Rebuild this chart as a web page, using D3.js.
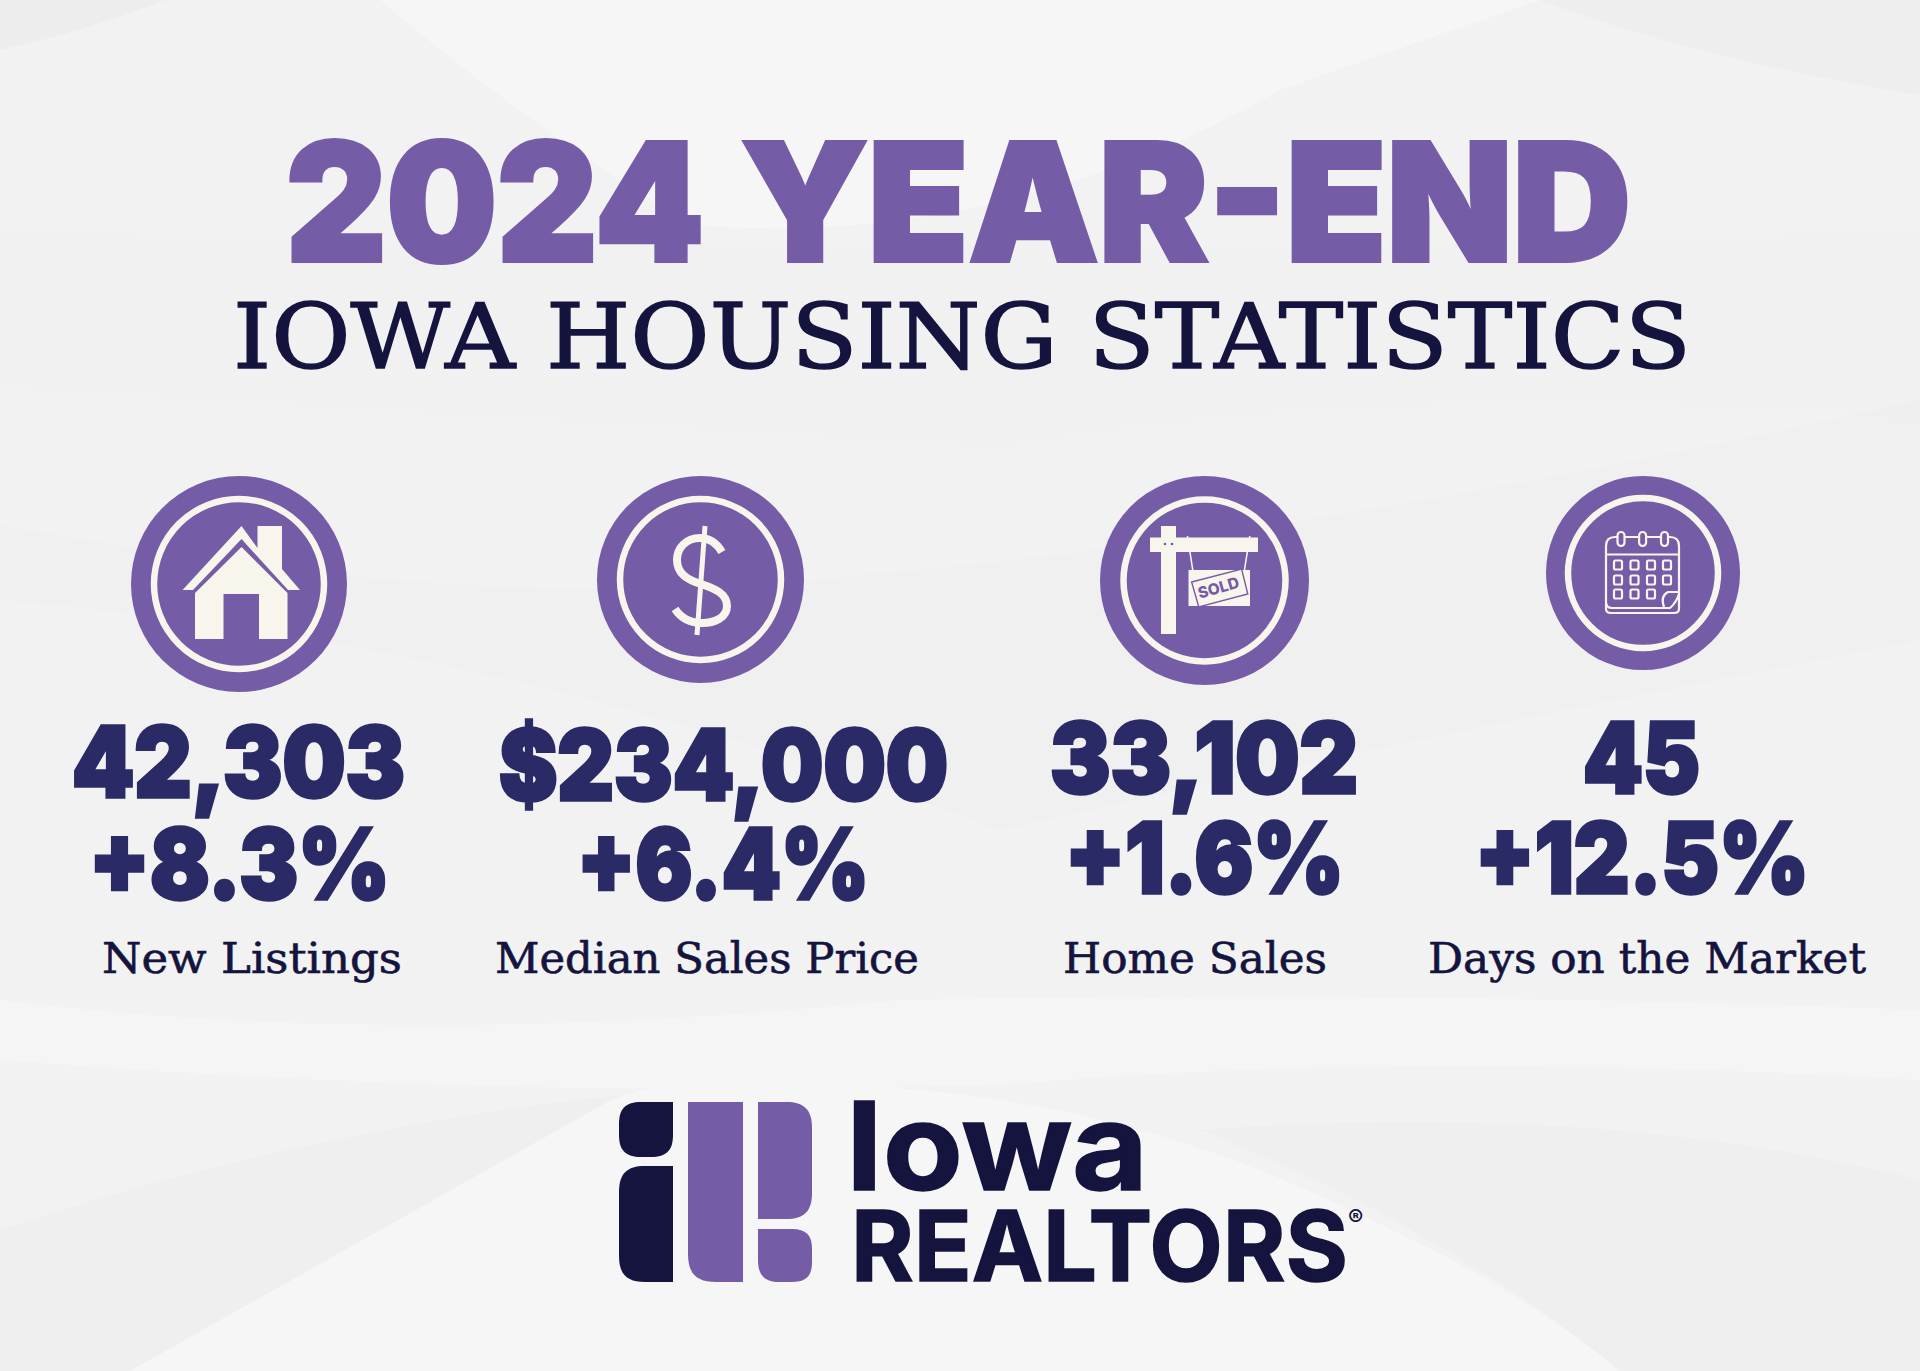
<!DOCTYPE html>
<html><head><meta charset="utf-8">
<script src="https://cdnjs.cloudflare.com/ajax/libs/d3/7.8.5/d3.min.js"></script>
<style>html,body{margin:0;padding:0;background:#f2f2f2}svg{display:block}</style>
</head><body><svg id="c" width="1920" height="1371"></svg>
<script>
// ---- data ----
const titleYear = "2024";
const titleRest = "YEAR-END";
const subtitleText = "IOWA HOUSING STATISTICS";
const categories = ["New Listings", "Median Sales Price", "Home Sales", "Days on the Market"];
const values = [42303, 234000, 33102, 45];
const valueFormats = [",", "$,", ",", "d"];
const changes = [8.3, 6.4, 1.6, 12.5];

// ---- layout ----
const PURPLE = "#745ca7", NAVY = "#2a2a66", INK = "#14143f", CREAM = "#f8f5ec";
const circles = [[239,584,108,88.5],[700.5,579.5,103.5,84],[1204.5,580.5,104.5,84.5],[1643,573,97,78.5]];
const valueBoxes = [[72,405,796.5],[499,948,799.5],[1050,1358,792.5],[1583,1700,792.5]];
const changeBoxes = [[89,390,898.5],[577,869,898.5],[1065,1344,892.5],[1475,1809,892.5]];
const labelBoxes = [[102,402,973],[495,919,973],[1063,1327,973],[1428,1866,973]];

const svg = d3.select("#c");
const fitted = (g, s, x0, x1, base, size, weight, family, fill, stroke) => g.append("text")
  .attr("x", x0).attr("y", base).attr("textLength", x1 - x0).attr("lengthAdjust", "spacingAndGlyphs")
  .attr("font-size", size).attr("font-weight", weight).attr("font-family", family).attr("fill", fill)
  .attr("stroke", stroke ? fill : null).attr("stroke-width", stroke || null).attr("stroke-linejoin","miter").text(s);

// background
const bg = svg.append("g");
bg.append("rect").attr("width",1920).attr("height",1371).attr("fill","#f2f2f2");
const shades = [
 ["M0,50 Q90,30 165,0 L0,0Z","#ececec",.9],
 ["M380,0 Q520,120 690,225 Q1000,250 1280,90 L1540,0Z","#f6f6f6",.9],
 ["M1540,0 Q1700,60 1920,95 L1920,0Z","#ededed",.9],
 ["M0,225 Q400,250 800,240 Q1300,260 1920,225 L1920,420 Q1400,380 1000,450 Q500,420 0,390Z","#f0f0f0",.8],
 ["M0,525 Q500,620 860,575 Q1300,540 1920,400 L1920,640 Q1400,740 1000,830 Q500,640 0,600Z","#efefef",.8],
 ["M0,1000 Q400,1050 900,1000 Q1400,990 1920,1010 L1920,1080 Q1400,1050 1000,1085 Q500,1100 0,1060Z","#f5f5f5",.9],
 ["M130,1371 Q350,1190 640,1090 Q980,1060 1260,1170 Q1500,1270 1620,1371Z","#f6f6f6",.9],
 ["M0,1230 Q300,1130 620,1095 L130,1371 L0,1371Z","#ededed",.8],
 ["M1620,1371 Q1450,1230 1200,1130 Q1600,1100 1920,1180 L1920,1371Z","#eeeeee",.8],
];
bg.selectAll("path").data(shades).join("path").attr("d",d=>d[0]).attr("fill",d=>d[1]).attr("opacity",d=>d[2]);

// titles
const tt = svg.append("text").attr("y",261).attr("font-size",164).attr("font-weight",900).attr("font-family","Inter")
  .attr("fill",PURPLE).attr("stroke",PURPLE).attr("stroke-width",4);
tt.append("tspan").attr("x",286).attr("textLength",418).attr("lengthAdjust","spacingAndGlyphs").text(titleYear);
tt.append("tspan").text(" ");
tt.append("tspan").attr("x",741).attr("textLength",890).attr("lengthAdjust","spacingAndGlyphs").text(titleRest);
fitted(svg, subtitleText, 233, 1691, 368, 90, 400, "DejaVu Serif", INK, 1.5);

// circles
const cg = svg.selectAll("g.kpi").data(categories).join("g").attr("class","kpi");
cg.append("circle").attr("cx",(d,i)=>circles[i][0]).attr("cy",(d,i)=>circles[i][1]).attr("r",(d,i)=>circles[i][2]).attr("fill",PURPLE);
cg.append("circle").attr("cx",(d,i)=>circles[i][0]).attr("cy",(d,i)=>circles[i][1]).attr("r",(d,i)=>circles[i][3]-3.5)
  .attr("fill","none").attr("stroke",CREAM).attr("stroke-width",6.5);

// value / change / label text
cg.each(function(d,i){
  const g = d3.select(this), v = valueBoxes[i], c = changeBoxes[i], l = labelBoxes[i];
  fitted(g, d3.format(valueFormats[i])(values[i]), v[0], v[1], v[2], 98, 900, "Inter", NAVY, 3.5);
  fitted(g, d3.format("+.1f")(changes[i]) + "%", c[0], c[1], c[2], 98, 900, "Inter", NAVY, 3.5);
  fitted(g, d, l[0], l[1], l[2], 42, 400, "DejaVu Serif", INK, 0.6);
});

// house icon
svg.append("path").attr("fill",CREAM).attr("d","M241.5,526 L257.5,548 V526 H282 V569 L300,590 H288 L241.5,539 L193,590 H182.5Z");
svg.append("path").attr("fill",CREAM).attr("d","M241.5,547 L287.5,593 V639 H259 V594 H223.5 V639 H195 V593Z");

// dollar icon
svg.append("path").attr("fill","none").attr("stroke",CREAM).attr("stroke-width",8)
  .attr("d","M722,552 C716,542 708,538 700,538 C686,538 677,548 677,560 C677,574 688,580 701,584 C716,589 727,594 727,606 C727,618 714,623 702,623 C690,623 681,618 675,609");
svg.append("path").attr("fill","none").attr("stroke",CREAM).attr("stroke-width",5).attr("d","M705,526 L697,635");

// sold sign icon
const s = svg.append("g");
s.append("rect").attr("x",1161).attr("y",526).attr("width",15).attr("height",108).attr("fill",CREAM);
s.append("rect").attr("x",1150).attr("y",537.5).attr("width",108).attr("height",14.5).attr("fill",CREAM);
s.selectAll("circle").data([1165,1172]).join("circle").attr("cx",d=>d).attr("cy",544).attr("r",1.3).attr("fill",PURPLE);
s.append("rect").attr("x",1188.5).attr("y",570).attr("width",61.5).attr("height",36).attr("fill",CREAM);
s.append("path").attr("fill","none").attr("stroke",CREAM).attr("stroke-width",1.6).attr("d","M1187.5,536 L1193.5,575 M1249.8,536 L1243.7,575");
s.append("path").attr("fill",CREAM).attr("stroke",PURPLE).attr("stroke-width",1.4).attr("d","M1191.6,582 L1241.6,569 L1247.8,594 L1198.8,607Z");
s.append("text").attr("transform","translate(1220,593) rotate(-16)").attr("text-anchor","middle")
  .attr("font-family","Inter").attr("font-weight",800).attr("font-size",15.5).attr("fill",PURPLE).text("SOLD");

// calendar icon
const k = svg.append("g").attr("fill","none").attr("stroke",CREAM).attr("stroke-width",2.2);
k.append("path").attr("d","M1606,546 Q1606,537 1615,537 H1670 Q1679,537 1679,546 V594 Q1676,603 1670,608 H1612 Q1606,608 1606,602Z");
k.append("path").attr("d","M1606,554.5 H1679 M1606,603 V609 Q1606,613 1611,613 H1674 Q1679,613 1679,609 V594 M1664,607 Q1660,596 1668,592 H1679");
k.selectAll("rect.ring").data([1621,1642.6,1664.5]).join("rect").attr("class","ring")
  .attr("x",d=>d-3.5).attr("y",532).attr("width",7).attr("height",14).attr("rx",3.5).attr("fill",PURPLE);
const cols=[1618,1634.5,1651,1667], rows=[565,580,594];
rows.forEach((y,r)=>cols.forEach((x,c)=>{ if(r===2&&c===3) return;
  k.append("rect").attr("x",x-4).attr("y",y-4.5).attr("width",8).attr("height",9).attr("rx",1.5);
}));

// logo
const logo = svg.append("g");
const rr = (x,y,w,h,tl,tr,br,bl)=>`M${x+tl},${y} H${x+w-tr} C${x+w-tr*.3},${y} ${x+w},${y+tr*.3} ${x+w},${y+tr} V${y+h-br} C${x+w},${y+h-br*.3} ${x+w-br*.3},${y+h} ${x+w-br},${y+h} H${x+bl} C${x+bl*.3},${y+h} ${x},${y+h-bl*.3} ${x},${y+h-bl} V${y+tl} C${x},${y+tl*.3} ${x+tl*.3},${y} ${x+tl},${y}Z`;
[[619,1102,54,55,22,0,22,22,INK],[619,1166,54,116,26,0,0,26,INK],[688,1102,55,180,0,0,0,28,PURPLE],[758,1102,54,117,0,26,26,0,PURPLE],[758,1229,54,53,0,20,20,22,PURPLE]]
 .forEach(p=>logo.append("path").attr("fill",p[8]).attr("d",rr(...p.slice(0,8))));
fitted(logo,"Iowa",846,1148,1190,122,700,"Inter",INK,1.5);
fitted(logo,"REALTORS",851,1348,1281,98,700,"Inter",INK,1.5);
logo.append("text").attr("x",1348).attr("y",1226).attr("font-family","Inter").attr("font-size",23).attr("font-weight",700).attr("fill",INK).text("®");
</script></body></html>
